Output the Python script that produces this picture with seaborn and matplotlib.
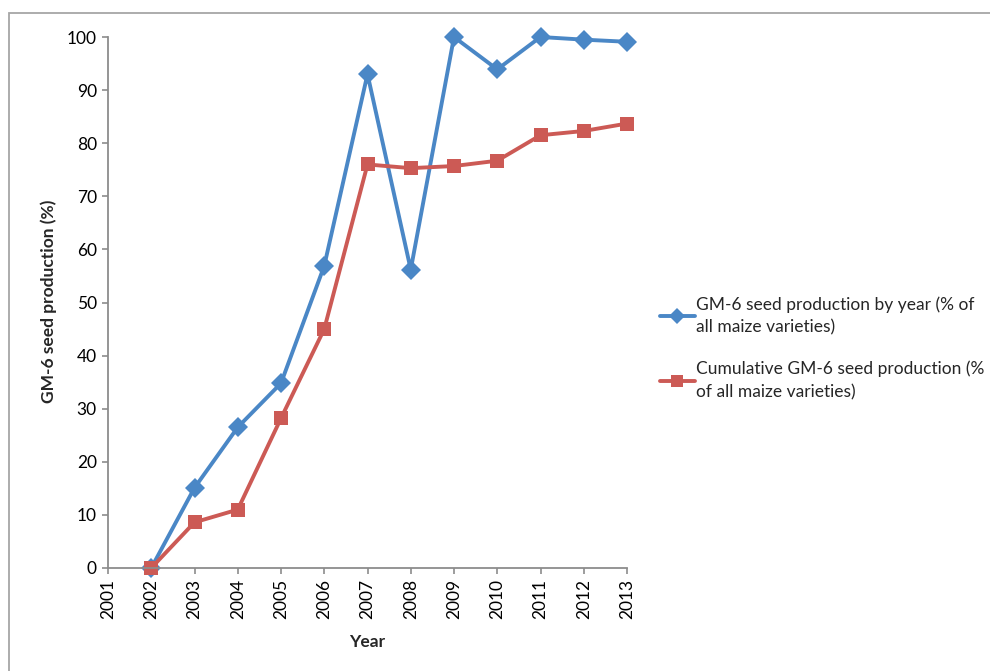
import matplotlib
matplotlib.use("Agg")
import matplotlib.pyplot as plt
from matplotlib.patches import Rectangle
import seaborn as sns
import pandas as pd

# Tick years shown on the category axis
tick_years = [2001, 2002, 2003, 2004, 2005, 2006, 2007, 2008, 2009, 2010, 2011, 2012, 2013]

# Years that carry values
years = [2002, 2003, 2004, 2005, 2006, 2007, 2008, 2009, 2010, 2011, 2012, 2013]
by_year = [0, 15.1, 26.5, 34.8, 56.9, 93.0, 56.2, 100, 93.9, 100, 99.5, 99.1]
cumulative = [0, 8.6, 11.0, 28.2, 45.0, 76.0, 75.3, 75.7, 76.7, 81.5, 82.3, 83.7]

label_by_year = "GM-6 seed production by year (% of\nall maize varieties)"
label_cum = "Cumulative GM-6 seed production (%\nof all maize varieties)"

y_ticks = [0, 10, 20, 30, 40, 50, 60, 70, 80, 90, 100]

df = pd.DataFrame({
    "Year": years + years,
    "value": by_year + cumulative,
    "series": [label_by_year] * len(years) + [label_cum] * len(years),
})

sns.set_theme(style="white")
plt.rcParams["font.family"] = ["Lato", "DejaVu Sans"]

blue = "#4a87c6"
red = "#cc5a55"
axis_grey = "#8c8c8c"

fig = plt.figure(figsize=(9.90, 6.71), dpi=100)
ax = fig.add_axes([108 / 990, 1 - 568 / 671, (627 - 108) / 990, (568 - 37) / 671])

sns.lineplot(
    data=df, x="Year", y="value", hue="series", style="series",
    palette={label_by_year: blue, label_cum: red},
    markers={label_by_year: "D", label_cum: "s"},
    dashes=False, linewidth=2.8, markersize=10.5, markeredgewidth=0,
    ax=ax, legend=True,
)
for line in ax.lines:
    line.set_clip_on(False)

ax.set_xlim(2001, 2013)
ax.set_ylim(0, 100)
ax.set_xticks(tick_years)
ax.set_xticklabels([str(y) for y in tick_years], rotation=90)
ax.set_yticks(y_ticks)
ax.tick_params(axis="both", which="major", direction="out", length=4,
               width=1.2, color=axis_grey, labelsize=12.5, labelcolor="black",
               pad=4, bottom=True, left=True)

for side in ("top", "right"):
    ax.spines[side].set_visible(False)
for side in ("left", "bottom"):
    ax.spines[side].set_color(axis_grey)
    ax.spines[side].set_linewidth(1.3)

ax.set_xlabel("Year", fontsize=12.5, fontweight="bold")
ax.set_ylabel("GM-6 seed production (%)", fontsize=12.5, fontweight="bold")
ax.xaxis.set_label_coords(0.499, -0.125)
ax.yaxis.set_label_coords(-0.098, 0.503)

handles, labels = ax.get_legend_handles_labels()
for h in handles:
    h.set_markersize(8)
ax.get_legend().remove()
leg = fig.legend(handles, labels, loc="upper left",
                 bbox_to_anchor=(660 / 990, 1 - 296 / 671),
                 frameon=False, fontsize=12.5, handlelength=2.0,
                 handletextpad=0.1, labelspacing=1.4, borderpad=0,
                 borderaxespad=0)
for t in leg.get_texts():
    t.set_linespacing(1.55)

# Chart-area frame, open at the right and bottom edges
fig.patches.append(Rectangle((9 / 990, -0.05), 1.2, 0.05 + (671 - 12.5) / 671,
                             transform=fig.transFigure, fill=False,
                             edgecolor="#a6a6a6", linewidth=1.3,
                             clip_on=False))

fig.savefig("out.png", dpi=100, facecolor="white")
